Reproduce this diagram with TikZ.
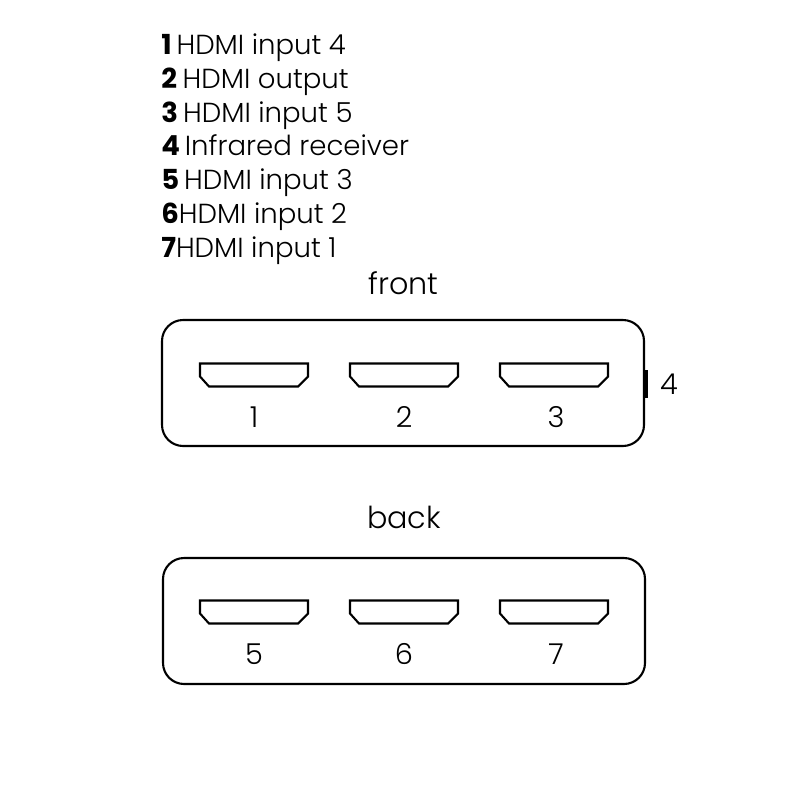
\documentclass[tikz,border=0pt]{standalone}
\usepackage{fontspec}
\setmainfont{Poppins Light}[BoldFont={Poppins Bold}]
\tikzset{
  casebox/.style={draw, line width=1.5pt, rounded corners=15pt, minimum width=482*0.025cm, minimum height=126*0.025cm},
  portline/.style={line width=1.5pt, line join=miter},
  legend/.style={anchor=base west, inner sep=0pt, font=\fontsize{19.6pt}{23pt}\selectfont},
  portnum/.style={inner sep=0pt, font=\fontsize{20.5pt}{24pt}\selectfont},
  title/.style={inner sep=0pt, font=\fontsize{21.5pt}{25pt}\selectfont}
}
\newcommand{\hdmiport}[2]{%
  \draw[portline] (#1,#2) -- ++(108,0) -- ++(0,13) -- ++(-10,10) -- ++(-89,0) -- ++(-9,-10) -- cycle;
}
\begin{document}
\begin{tikzpicture}[x=0.025cm,y=-0.025cm]
\useasboundingbox (0,0) rectangle (800,800);

% Legend
\node[legend] (row1) at (161,55) {\textbf{1}\kern3.5pt HDMI input 4};
\node[legend] (row2) at (161,88.7) {\textbf{2}\kern4pt HDMI output};
\node[legend] (row3) at (161,122.4) {\textbf{3}\kern3.7pt HDMI input 5};
\node[legend] (row4) at (161,156) {\textbf{4}\kern3.5pt Infrared receiver};
\node[legend] (row5) at (161,189.7) {\textbf{5}\kern3.5pt HDMI input 3};
\node[legend] (row6) at (161,223.4) {\textbf{6}HDMI input 2};
\node[legend] (row7) at (161,257.2) {\textbf{7}HDMI input 1};

% Front
\node[title] (front) at (403.5,283) {front};
\node[casebox] (frontcase) at (403,383) {};
\foreach \x in {200,350,500} {\hdmiport{\x}{363.5}}
\node[portnum] (f1) at (254,417) {1};
\node[portnum] (f2) at (404,417) {2};
\node[portnum] (f3) at (556,417) {3};
\fill (643,369.5) rectangle (648,398);
\node[portnum] (f4) at (669,384) {4};

% Back
\node[title] (back) at (404,517) {back};
\node[casebox] (backcase) at (404,621) {};
\foreach \x in {200,350,500} {\hdmiport{\x}{600.5}}
\node[portnum] (b5) at (254,654) {5};
\node[portnum] (b6) at (404,654) {6};
\node[portnum] (b7) at (556,654) {7};
\end{tikzpicture}
\end{document}
